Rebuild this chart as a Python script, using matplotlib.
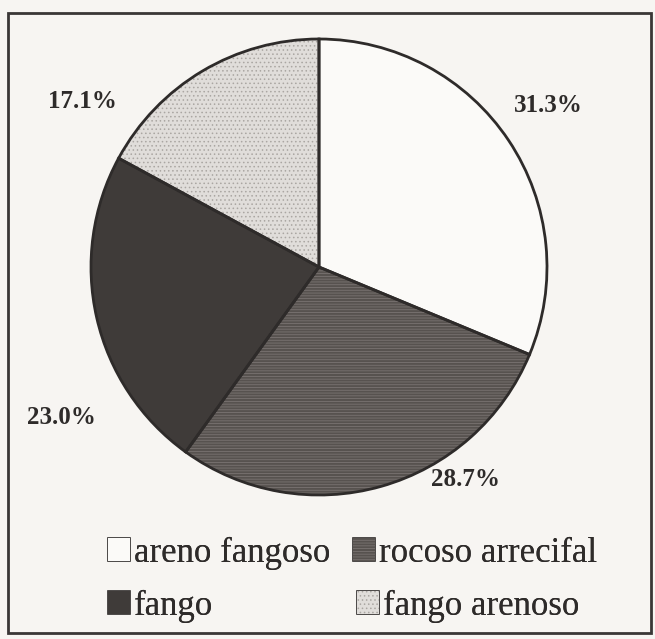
import matplotlib
matplotlib.use("Agg")
import matplotlib.pyplot as plt
from matplotlib.patches import Rectangle, Patch

categories = ["areno fangoso", "rocoso arrecifal", "fango", "fango arenoso"]
values = [31.3, 28.7, 23.0, 17.1]
pct_labels = ["31.3%", "28.7%", "23.0%", "17.1%"]

colors = ["#fbfaf8", "#57524f", "#3f3b39", "#e0ddda"]
hatch_colors = ["#fbfaf8", "#7a7472", "#3f3b39", "#aaa6a2"]
hatches = [None, "------", None, "...."]
label_xy = [(548, 105), (466, 479), (61, 417), (82, 102)]  # pixel positions (top-left origin)
legend_xy = [(108, 553), (353, 553), (108, 606), (357, 606)]  # pixel positions

W, H = 655, 639
EDGE = "#2e2b2a"
plt.rcParams["hatch.linewidth"] = 0.6
fig = plt.figure(figsize=(W / 100, H / 100), dpi=100)
fig.patch.set_facecolor("#f7f5f2")
ax = fig.add_axes([0, 0, 1, 1])
ax.set_facecolor("#f7f5f2")

center = (319, H - 267)
wedges, _ = ax.pie(values, colors=colors, startangle=90, counterclock=False,
                   center=center, radius=228,
                   wedgeprops=dict(linewidth=0))
for w, h, hc in zip(wedges, hatches, hatch_colors):
    w.set_edgecolor(hc)
    w.set_linewidth(0)
    if h:
        w.set_hatch(h)
# outlines
ax.pie(values, colors=["none"] * len(values), startangle=90, counterclock=False,
       center=center, radius=228,
       wedgeprops=dict(edgecolor=EDGE, linewidth=2.0, fill=False))

ax.set_xlim(0, W)
ax.set_ylim(0, H)
ax.set_aspect("equal")
ax.axis("off")

for txt, (x, y) in zip(pct_labels, label_xy):
    ax.text(x, H - y, txt, ha="center", va="center", fontsize=18, fontweight="bold",
            family="Liberation Serif", color=EDGE)

# frame
ax.add_patch(Rectangle((8, H - 633), 645 - 8 + 6, 633 - 13, fill=False,
                       edgecolor="#3a3736", linewidth=2))

for i, (x, y) in enumerate(legend_xy):
    hp = Patch(facecolor=colors[i], edgecolor=hatch_colors[i], hatch=hatches[i], linewidth=0)
    leg = fig.legend([hp], [categories[i]], loc="center left",
                     bbox_to_anchor=(x / W, 1 - y / H), frameon=False,
                     prop={"family": "Liberation Serif", "size": 25},
                     handlelength=0.62, handleheight=0.62, handletextpad=0.12,
                     borderpad=0, borderaxespad=0)
    leg.get_texts()[0].set_color(EDGE)
    fig.add_artist(leg)

fig.canvas.draw()
for leg in fig.legends:
    p = leg.legend_handles[0]
    bb = p.get_window_extent()
    fig.add_artist(Rectangle((bb.x0, bb.y0), bb.width, bb.height, fill=False,
                             edgecolor=EDGE, linewidth=1.2, transform=None))

fig.savefig("out.png", dpi=100, facecolor=fig.get_facecolor())
